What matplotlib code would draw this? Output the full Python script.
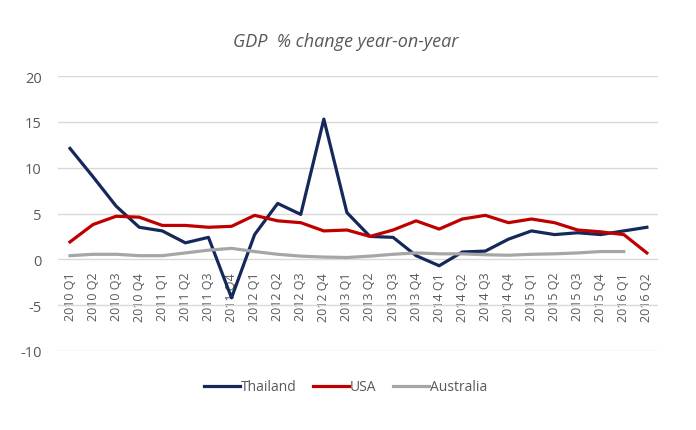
import matplotlib.pyplot as plt

quarters = ["2010 Q1", "2010 Q2", "2010 Q3", "2010 Q4",
            "2011 Q1", "2011 Q2", "2011 Q3", "2011 Q4",
            "2012 Q1", "2012 Q2", "2012 Q3", "2012 Q4",
            "2013 Q1", "2013 Q2", "2013 Q3", "2013 Q4",
            "2014 Q1", "2014 Q2", "2014 Q3", "2014 Q4",
            "2015 Q1", "2015 Q2", "2015 Q3", "2015 Q4",
            "2016 Q1", "2016 Q2"]

thailand = [12.1, 9.0, 5.8, 3.5, 3.1, 1.8, 2.4, -4.2, 2.7, 6.1, 4.9, 15.3,
            5.1, 2.5, 2.4, 0.4, -0.7, 0.8, 0.9, 2.2, 3.1, 2.7, 2.9, 2.7,
            3.1, 3.5]
usa = [1.9, 3.8, 4.7, 4.6, 3.7, 3.7, 3.5, 3.6, 4.8, 4.2, 4.0, 3.1,
       3.2, 2.5, 3.2, 4.2, 3.3, 4.4, 4.8, 4.0, 4.4, 4.0, 3.2, 3.0,
       2.7, 0.7]
# Australia stops at 2016 Q1
australia = [0.4, 0.55, 0.55, 0.4, 0.4, 0.7, 1.0, 1.2, 0.85, 0.55, 0.35, 0.25,
             0.2, 0.35, 0.55, 0.7, 0.6, 0.6, 0.5, 0.45, 0.55, 0.6, 0.7, 0.85,
             0.85]

txt = "#595959"
plt.rcParams['font.family'] = ['Open Sans', 'DejaVu Sans']
plt.rcParams['axes.unicode_minus'] = False

fig = plt.figure(figsize=(6.96, 4.31), dpi=100)
ax = fig.add_axes([0.084, 0.1833, 0.862, 0.638])

for s in ax.spines.values():
    s.set_visible(False)
# category labels sit under the zero line
ax.spines["bottom"].set_position(("data", 0))

x = list(range(len(quarters)))
ax.plot(x, thailand, color="#14285A", lw=2.3, label="Thailand")
ax.plot(x, usa, color="#C00000", lw=2.3, label="USA")
ax.plot(x[:len(australia)], australia, color="#A6A6A6", lw=2.3, label="Australia")

ax.set_xlim(-0.5, len(quarters) - 0.5)
ax.set_ylim(-10, 20)
ax.set_yticks([-10, -5, 0, 5, 10, 15, 20])
ax.set_xticks(x)
ax.set_xticklabels(quarters)
plt.setp(ax.get_xticklabels(), rotation=90, fontsize=9, color=txt)
ax.tick_params(axis="y", labelsize=10.5, labelcolor=txt, length=0, pad=12)
ax.tick_params(axis="x", length=0, pad=9)
ax.grid(axis="y", color="#D9D9D9", lw=1)
ax.set_axisbelow(True)

fig.text(0.496, 0.902, "GDP  % change year-on-year", ha="center", va="center",
         fontsize=13, style="italic", color=txt)

fig.legend(loc="center", bbox_to_anchor=(0.496, 0.1), ncol=3, frameon=False,
           fontsize=10, handlelength=2.6, handletextpad=0.05, columnspacing=1.2,
           labelcolor=txt)

fig.savefig("out.png", dpi=100)
